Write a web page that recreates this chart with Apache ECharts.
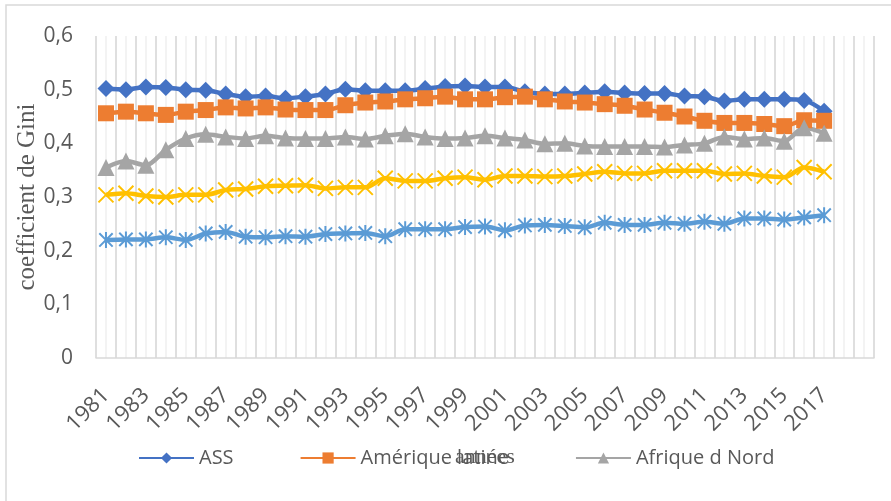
<!DOCTYPE html>
<html>
<head>
<meta charset="utf-8">
<script src="https://cdn.jsdelivr.net/npm/echarts@6/dist/echarts.min.js"></script>
<style>
  html, body { margin: 0; padding: 0; background: #fff; }
  #chart { width: 891px; height: 501px; }
</style>
</head>
<body>
<div id="chart"></div>
<script>
// Years on the category axis (the last two slots are empty)
const years = ['1981','1982','1983','1984','1985','1986','1987','1988','1989','1990',
  '1991','1992','1993','1994','1995','1996','1997','1998','1999','2000',
  '2001','2002','2003','2004','2005','2006','2007','2008','2009','2010',
  '2011','2012','2013','2014','2015','2016','2017','',''];

// Gini coefficient by region, 1981-2017
const ass = [0.502,0.500,0.505,0.504,0.500,0.499,0.492,0.487,0.488,0.484,0.487,0.492,0.501,
  0.498,0.498,0.498,0.502,0.506,0.507,0.505,0.505,0.496,0.492,0.492,0.494,
  0.496,0.494,0.493,0.493,0.488,0.487,0.479,0.482,0.482,0.482,0.480,0.460];
const ameriqueLatine = [0.456,0.459,0.456,0.453,0.459,0.462,0.467,0.465,0.467,0.463,0.462,0.462,0.471,
  0.476,0.478,0.482,0.484,0.487,0.482,0.482,0.486,0.487,0.482,0.478,0.476,
  0.473,0.470,0.463,0.457,0.450,0.442,0.438,0.438,0.436,0.432,0.443,0.442];
const afriqueNord = [0.355,0.367,0.359,0.388,0.409,0.417,0.412,0.409,0.414,0.410,0.409,0.409,0.412,
  0.408,0.414,0.418,0.412,0.409,0.410,0.414,0.410,0.406,0.399,0.400,0.395,
  0.394,0.394,0.394,0.393,0.397,0.400,0.412,0.408,0.410,0.404,0.429,0.419];
const serie4 = [0.304,0.307,0.302,0.300,0.304,0.304,0.313,0.315,0.320,0.321,0.322,0.316,0.318,
  0.318,0.335,0.330,0.330,0.335,0.337,0.332,0.339,0.339,0.338,0.339,0.343,
  0.347,0.344,0.344,0.349,0.349,0.349,0.343,0.344,0.339,0.337,0.355,0.347];
const serie5 = [0.220,0.221,0.221,0.225,0.220,0.232,0.235,0.226,0.225,0.227,0.226,0.231,0.232,
  0.233,0.227,0.240,0.240,0.240,0.244,0.245,0.238,0.247,0.248,0.246,0.2435,
  0.252,0.248,0.248,0.252,0.250,0.254,0.250,0.260,0.260,0.258,0.262,0.266];

// Y tick labels use a decimal comma
const yTicks = ['0','0,1','0,2','0,3','0,4','0,5','0,6'];

// Half-band slots used only to draw the light intermediate grid lines
const halfSlots = [];
for (let i = 0; i < years.length * 2; i++) halfSlots.push(String(i));

const SANS = '"Open Sans", "Noto Sans", sans-serif';
const SERIF = '"Liberation Serif", "DejaVu Serif", serif';
const TXT = '#595959';

const crossPath = 'path://M0,0 L10,10 M10,0 L0,10';
const starPath = 'path://M0,0 L10,10 M10,0 L0,10 M5,-1 L5,11';

const chart = echarts.init(document.getElementById('chart'), null, { renderer: 'canvas' });

function lineSeries(name, data, color, symbol, size, extra) {
  return Object.assign({
    name: name,
    type: 'line',
    data: data,
    smooth: 0.3,
    symbol: symbol,
    symbolSize: size,
    showSymbol: true,
    showAllSymbol: true,
    lineStyle: { color: color, width: 4.5 },
    itemStyle: { color: color },
    emphasis: { disabled: true }
  }, extra || {});
}

chart.setOption({
  animation: false,
  backgroundColor: '#fff',
  graphic: [{
    type: 'rect',
    shape: { x: 6, y: 5, width: 900, height: 520 },
    style: { fill: 'none', stroke: '#d9d9d9', lineWidth: 1.5 },
    silent: true
  }],
  grid: { left: 96, right: 17, top: 36, bottom: 143, containLabel: false },
  legend: {
    data: ['ASS', 'Amérique latine', 'Afrique d Nord'],
    left: 133,
    top: 443,
    itemWidth: 55,
    itemHeight: 14,
    itemGap: 66,
    textStyle: { fontFamily: SANS, fontSize: 20, color: TXT }
  },
  xAxis: [{
    type: 'category',
    data: years,
    boundaryGap: true,
    z: 1,
    name: 'années',
    nameLocation: 'middle',
    nameGap: 88,
    nameMoveOverlap: false,
    nameTextStyle: { fontFamily: SERIF, fontSize: 22, color: TXT },
    axisLine: { show: true, lineStyle: { color: '#d9d9d9', width: 1.5 } },
    axisTick: { show: false },
    axisLabel: {
      interval: 1,
      rotate: 45,
      margin: 34,
      fontFamily: SANS,
      fontSize: 22,
      color: TXT
    },
    splitLine: { show: true, interval: 0, lineStyle: { color: '#d9d9d9', width: 1.5 } }
  }, {
    type: 'category',
    data: halfSlots,
    boundaryGap: true,
    position: 'bottom',
    z: 0,
    axisLine: { show: false },
    axisTick: { show: false },
    axisLabel: { show: false },
    splitLine: { show: true, interval: 0, lineStyle: { color: '#efefef', width: 1.5 } }
  }],
  yAxis: {
    type: 'value',
    min: 0,
    max: 0.6,
    interval: 0.1,
    name: 'coefficient de Gini',
    nameLocation: 'middle',
    nameGap: 56,
    nameMoveOverlap: false,
    nameTextStyle: { fontFamily: SERIF, fontSize: 25, color: TXT },
    axisLine: { show: false },
    axisTick: { show: false },
    splitLine: { show: false },
    axisLabel: {
      margin: 23,
      fontFamily: SANS,
      fontSize: 21,
      color: TXT,
      formatter: function (v) { return yTicks[Math.round(v * 10)]; }
    }
  },
  series: [
    lineSeries('ASS', ass, '#4472C4', 'diamond', [17, 17]),
    lineSeries('Amérique latine', ameriqueLatine, '#ED7D31', 'rect', 16),
    lineSeries('Afrique d Nord', afriqueNord, '#A5A5A5', 'triangle', 17),
    lineSeries('Série4', serie4, '#FFC000', crossPath, 15, {
      symbolKeepAspect: true,
      itemStyle: { color: 'rgba(0,0,0,0)', borderColor: '#FFC000', borderWidth: 2 }
    }),
    lineSeries('Série5', serie5, '#5B9BD5', starPath, 16, {
      symbolKeepAspect: true,
      itemStyle: { color: 'rgba(0,0,0,0)', borderColor: '#5B9BD5', borderWidth: 2 }
    })
  ]
});
</script>
</body>
</html>
